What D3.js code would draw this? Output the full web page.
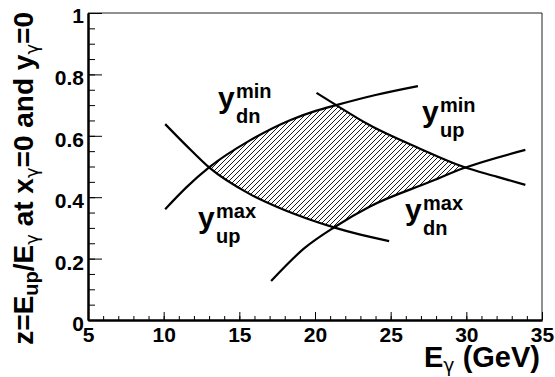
<!DOCTYPE html>
<html>
<head>
<meta charset="utf-8">
<script src="https://cdn.jsdelivr.net/npm/d3@7"></script>
<style>
  html, body { margin: 0; padding: 0; background: #fff; }
  svg { display: block; font-family: "Liberation Sans", Arial, Helvetica, sans-serif; font-weight: bold; }
  .greek { font-family: "DejaVu Sans", "Liberation Sans", sans-serif; font-weight: normal; }
</style>
</head>
<body>
<svg id="chart" width="555" height="377"></svg>
<script>
// Kinematic boundaries of z = E_up/E_gamma versus the photon energy E_gamma (GeV)
const yDnMinE = [10.1, 11.5, 13.0, 15.7, 18.35, 20.1, 21.4, 24.0, 26.8];
const yDnMinZ = [0.361, 0.432, 0.497, 0.585, 0.651, 0.682, 0.700, 0.733, 0.762];

const yUpMaxE = [10.1, 11.5, 13.0, 15.7, 17.7, 19.5, 21.3, 23.0, 24.9];
const yUpMaxZ = [0.638, 0.568, 0.497, 0.410, 0.364, 0.330, 0.301, 0.278, 0.257];

const yUpMinE = [20.1, 21.4, 23.6, 26.9, 29.8, 32.0, 33.9];
const yUpMinZ = [0.740, 0.700, 0.635, 0.559, 0.499, 0.467, 0.440];

const yDnMaxE = [17.1, 19.3, 21.3, 23.6, 27.6, 29.8, 33.9];
const yDnMaxZ = [0.127, 0.234, 0.303, 0.369, 0.450, 0.494, 0.554];

// Axis ticks
const xMajor = [5, 10, 15, 20, 25, 30, 35];
const xMinor = d3.range(5, 35.001, 1);
const yMajor = [0, 0.2, 0.4, 0.6, 0.8, 1];
const yMajorLabels = ["0", "0.2", "0.4", "0.6", "0.8", "1"];
const yMinor = d3.range(0, 1.0001, 0.05);

const svg = d3.select("#chart");
const x = d3.scaleLinear().domain([5, 35]).range([88, 542]);
const y = d3.scaleLinear().domain([0, 1]).range([320, 13]);
const X0 = x.range()[0], X1 = x.range()[1];
const Ybot = y.range()[0], Ytop = y.range()[1];

const zip = (E, Z) => E.map((e, i) => [e, Z[i]]);
const dnMin = zip(yDnMinE, yDnMinZ);
const upMax = zip(yUpMaxE, yUpMaxZ);
const upMin = zip(yUpMinE, yUpMinZ);
const dnMax = zip(yDnMaxE, yDnMaxZ);

const line = d3.line().x(d => x(d[0])).y(d => y(d[1])).curve(d3.curveMonotoneX);
const cont = pts => line(pts).replace(/^M/, "L");
const first = pts => pts[0], last = pts => pts[pts.length - 1];

// Hatch pattern and half-plane clips bounding the allowed region
const defs = svg.append("defs");
const pat = defs.append("pattern").attr("id", "hatch")
  .attr("patternUnits", "userSpaceOnUse").attr("width", 5).attr("height", 5);
pat.append("path").attr("d", "M-1,1L1,-1M0,5L5,0M4,6L6,4")
  .attr("stroke", "#000").attr("stroke-width", 0.9).attr("fill", "none");

const clips = [
  // above y_up^max
  line(upMax) + `L${X1},${y(last(upMax)[1])}L${X1},${Ytop}L${X0},${Ytop}L${X0},${y(first(upMax)[1])}Z`,
  // above y_dn^max
  `M${X0},${Ybot}L${x(first(dnMax)[0])},${Ybot}` + cont(dnMax) +
    `L${X1},${y(last(dnMax)[1])}L${X1},${Ytop}L${X0},${Ytop}Z`,
  // below y_dn^min
  line(dnMin) + `L${X1},${y(last(dnMin)[1])}L${X1},${Ybot}L${X0},${Ybot}L${X0},${y(first(dnMin)[1])}Z`,
  // below y_up^min
  `M${X0},${Ytop}L${x(first(upMin)[0])},${Ytop}` + cont(upMin) +
    `L${X1},${y(last(upMin)[1])}L${X1},${Ybot}L${X0},${Ybot}Z`
];
clips.forEach((d, i) => {
  defs.append("clipPath").attr("id", "clip" + i).append("path").attr("d", d);
});

let holder = svg.append("g");
clips.forEach((d, i) => {
  holder = holder.append("g").attr("clip-path", `url(#clip${i})`);
});
holder.append("rect")
  .attr("x", X0).attr("y", Ytop).attr("width", X1 - X0).attr("height", Ybot - Ytop)
  .attr("fill", "url(#hatch)");

// Boundary curves
svg.append("g").selectAll("path")
  .data([dnMin, upMax, upMin, dnMax])
  .join("path")
  .attr("d", line)
  .attr("fill", "none")
  .attr("stroke", "#000")
  .attr("stroke-width", 2.2);

// Frame
svg.append("path")
  .attr("d", `M${X0},${Ytop}H${X1}V${Ybot}`)
  .attr("fill", "none").attr("stroke", "#222").attr("stroke-width", 1);

// X axis
const gx = svg.append("g").attr("transform", `translate(0,${Ybot})`);
gx.append("g").call(d3.axisBottom(x).tickValues(xMinor).tickSize(-4).tickSizeOuter(0).tickFormat(""));
const gxM = gx.append("g").call(d3.axisBottom(x).tickValues(xMajor).tickSize(-8).tickSizeOuter(0).tickFormat(d3.format("d")));
gxM.selectAll("text").attr("y", 21.5).attr("dy", null)
  .attr("font-size", 21).attr("font-family", null).attr("fill", "#000");

// Y axis
const gy = svg.append("g").attr("transform", `translate(${X0},0)`);
gy.append("g").call(d3.axisLeft(y).tickValues(yMinor).tickSize(-7).tickSizeOuter(0).tickFormat(""));
const gyM = gy.append("g").call(d3.axisLeft(y).tickValues(yMajor).tickSize(-14).tickSizeOuter(0)
  .tickFormat((d, i) => yMajorLabels[i]));
gyM.selectAll("text").attr("x", -4).attr("y", d => d === 1 ? 9.5 : 10.5).attr("dy", null)
  .attr("font-size", 21).attr("font-family", null).attr("fill", "#000");

svg.selectAll(".domain").attr("stroke", "#000").attr("stroke-width", 2);
svg.selectAll(".tick line").attr("stroke", "#000").attr("stroke-width", 1);
svg.selectAll(".tick text").attr("font-weight", "bold");

// Axis titles
const xt = svg.append("text")
  .attr("x", 540).attr("y", 366.5).attr("text-anchor", "end").attr("font-size", 29);
xt.append("tspan").text("E");
xt.append("tspan").attr("class", "greek").attr("font-size", 19).attr("dy", 5).text("γ");
xt.append("tspan").attr("dy", -5).text(" (GeV)");

const yt = svg.append("text")
  .attr("transform", `translate(33,12) rotate(-90)`)
  .attr("text-anchor", "end").attr("font-size", 28);
const yParts = [["z=E", 0], ["up", 1], ["/E", 0], ["γ", 2], [" at x", 0], ["γ", 2],
                ["=0 and y", 0], ["γ", 2], ["=0", 0]];
let shifted = false;
yParts.forEach(([t, sub]) => {
  const ts = yt.append("tspan").text(t);
  if (sub === 2) ts.attr("class", "greek");
  if (sub) {
    ts.attr("font-size", sub === 2 ? 18 : 20);
    if (!shifted) { ts.attr("dy", 5); shifted = true; }
  } else if (shifted) { ts.attr("dy", -5); shifted = false; }
});

// Curve labels: y with superscript and subscript
const curveLabels = [
  { sup: "min", sub: "dn", px: 218, base: 108 },
  { sup: "min", sub: "up", px: 422, base: 122 },
  { sup: "max", sub: "up", px: 198, base: 228 },
  { sup: "max", sub: "dn", px: 405, base: 220 }
];
const lg = svg.append("g").selectAll("g").data(curveLabels).join("g");
lg.append("text").attr("x", d => d.px).attr("y", d => d.base).attr("font-size", 30).text("y");
lg.append("text").attr("x", d => d.px + 18).attr("y", d => d.base - 10).attr("font-size", 20).text(d => d.sup);
lg.append("text").attr("x", d => d.px + 18).attr("y", d => d.base + 15).attr("font-size", 20).text(d => d.sub);
</script>
</body>
</html>
